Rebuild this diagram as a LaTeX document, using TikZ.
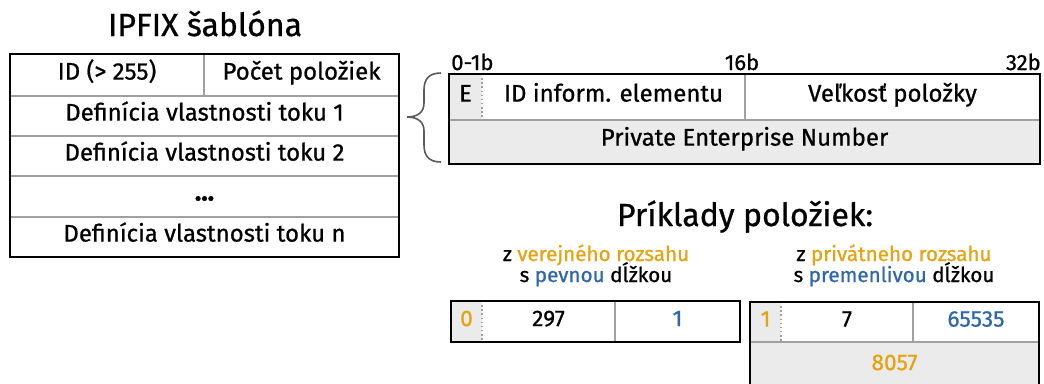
\documentclass[tikz,border=0pt]{standalone}
\usepackage{fontspec}
\setmainfont{Fira Sans}[FakeBold=0.8]
\definecolor{cellgray}{RGB}{235,235,235}
\definecolor{linegray}{RGB}{160,160,160}
\definecolor{bracegray}{RGB}{90,90,90}
\definecolor{orng}{RGB}{228,163,18}
\definecolor{blu}{RGB}{46,103,170}
\begin{document}
\begin{tikzpicture}[x=0.75pt,y=-0.75pt,
  cell/.style={inner sep=0pt, outer sep=0pt, text height=0.69em, text depth=0pt, font=\fontsize{18}{20}\selectfont},
  numcell/.style={cell, font=\fontsize{17}{19}\selectfont},
  sepline/.style={draw=linegray, line width=1.1pt},
  dsepline/.style={draw=linegray, line width=1.1pt, dotted},
  frame/.style={draw=black, line width=1.9pt},
  bg/.style={fill=cellgray},
  lbl/.style={inner sep=0pt, font=\fontsize{16.5}{18}\selectfont},
  ttl/.style={inner sep=0pt, font=\fontsize{24}{26}\selectfont},
  sub/.style={inner sep=0pt, font=\fontsize{15.5}{17}\selectfont},
  subtop/.style={sub, text depth=0pt},
  subbot/.style={sub, text height=0.7em},
  bracestyle/.style={draw=bracegray, line width=1.2pt}
]
\useasboundingbox (0,0) rectangle (1044,383);
\clip (0,0) rectangle (1044,383);

% Titles
\node[ttl, anchor=base] (title) at (205,36) {IPFIX šablóna};
\node[ttl, anchor=base] (extitle) at (745,226) {Príklady položiek:};

% Left template table
\node[cell] (idc) at (107,75) {ID (> 255)};
\node[cell] (cnt) at (301.5,75) {Počet položiek};
\node[cell] (d1) at (204.5,116) {Definícia vlastnosti toku 1};
\node[cell] (d2) at (204.5,156) {Definícia vlastnosti toku 2};
\node[cell, text height=6pt, font=\fontsize{20}{22}\bfseries] (dd) at (204.5,196.5) {...};
\node[cell] (dn) at (204.5,237) {Definícia vlastnosti toku n};
\draw[sepline] (204,54) -- (204,96);
\foreach \yy in {96,136,176,217} \draw[sepline] (10,\yy) -- (399,\yy);
\draw[frame] (10,54) rectangle (399,257);

% Brace
\draw[bracestyle] (441,73) .. controls (429,73) and (424,79) .. (424,90) -- (424,103)
  .. controls (424,112) and (418,117) .. (407,117)
  .. controls (418,117) and (424,122) .. (424,131) -- (424,145)
  .. controls (424,156) and (429,162) .. (441,162);

% Field definition table
\fill[bg] (449,74) rectangle (482,120);
\fill[bg] (449,120) rectangle (1040,164);
\node[lbl, anchor=base west] (b0) at (451,70) {0-1b};
\node[lbl, anchor=base] (b16) at (742,70) {16b};
\node[lbl, anchor=base east] (b32) at (1041,70) {32b};
\node[cell] (e) at (465.5,97) {E};
\node[cell] (iid) at (613.5,97) {ID inform. elementu};
\node[cell] (vel) at (892.5,97) {Veľkosť položky};
\node[cell] (pen) at (744.5,141) {Private Enterprise Number};
\draw[dsepline] (482,74) -- (482,120);
\draw[sepline] (745,74) -- (745,120);
\draw[sepline] (449,120) -- (1040,120);
\draw[frame] (449,74) rectangle (1040,164);

% Example captions
\node[subtop, anchor=base] (s1a) at (596,261) {z \textcolor{orng}{verejného rozsahu}};
\node[subbot, anchor=base] (s1b) at (596,282) {s \textcolor{blu}{pevnou} dĺžkou};
\node[subtop, anchor=base] (s2a) at (894,261) {z \textcolor{orng}{privátneho rozsahu}};
\node[subbot, anchor=base] (s2b) at (894,282) {s \textcolor{blu}{premenlivou} dĺžkou};

% Example A
\fill[bg] (451,301) rectangle (482,342);
\node[numcell, text=orng] (a0) at (466.5,321.5) {0};
\node[numcell] (a1) at (548.5,321.5) {297};
\node[numcell, text=blu] (a2) at (677.5,321.5) {1};
\draw[dsepline] (482,301) -- (482,342);
\draw[sepline] (615,301) -- (615,342);
\draw[frame] (451,301) rectangle (740,342);

% Example B
\fill[bg] (750,302) rectangle (781,342);
\fill[bg] (750,342) rectangle (1039,390);
\node[numcell, text=orng] (bb0) at (765.5,322) {1};
\node[numcell] (bb1) at (847,322) {7};
\node[numcell, text=blu] (bb2) at (976,322) {65535};
\node[numcell, text=orng] (bb3) at (894.5,365.5) {8057};
\draw[dsepline] (781,302) -- (781,342);
\draw[sepline] (913,302) -- (913,342);
\draw[sepline] (750,342) -- (1039,342);
\draw[frame] (750,302) rectangle (1039,390);
\end{tikzpicture}
\end{document}
